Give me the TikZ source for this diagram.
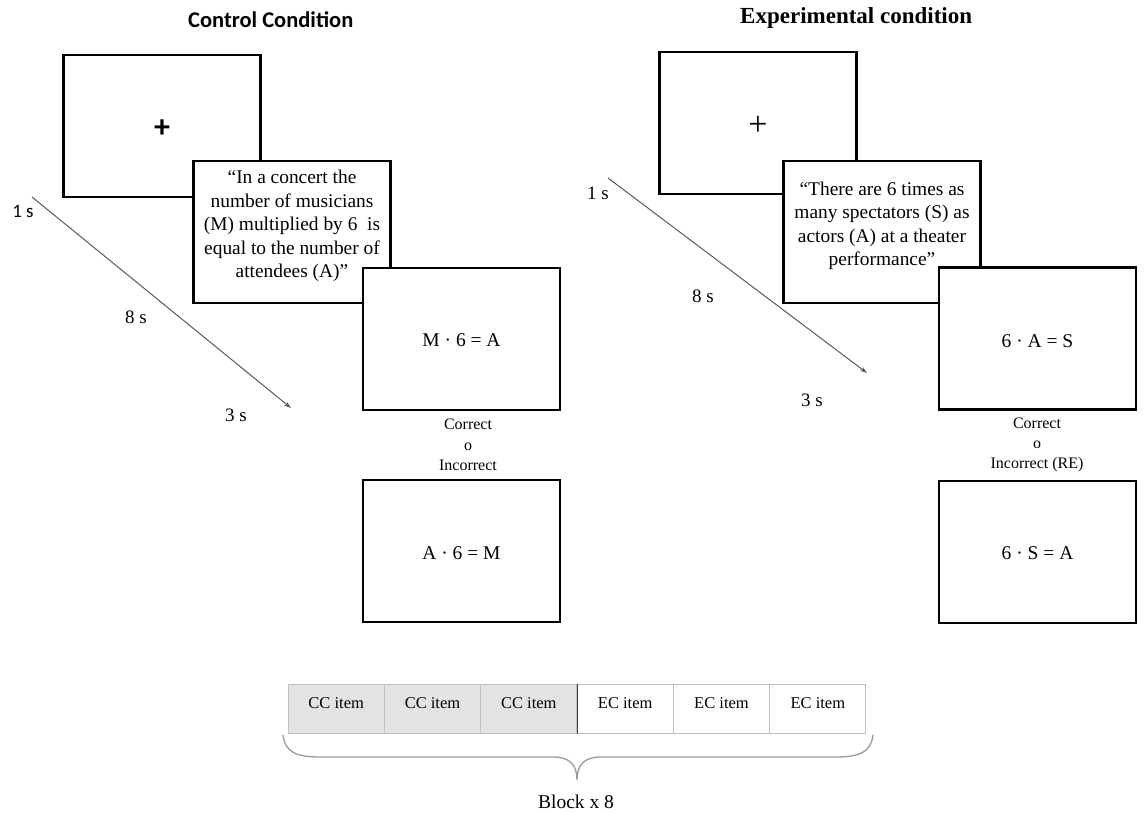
\documentclass[tikz,border=0pt]{standalone}
\usepackage{fontspec}
\setmainfont{Liberation Serif}
\newfontfamily\calib{Carlito}
\usetikzlibrary{arrows.meta}
\begin{document}
\begin{tikzpicture}[x=1pt,y=-1pt,
  screen/.style={draw=black,line width=2.4pt,fill=white,rectangle,inner sep=0pt,minimum width=197pt,minimum height=142pt},
  sent/.style={font=\fontsize{19.4}{23.4}\selectfont,align=center,inner sep=0pt},
  eqtxt/.style={font=\fontsize{19.5}{23}\selectfont,inner sep=0pt},
  resp/.style={font=\fontsize{16}{20.3}\selectfont,align=center,inner sep=0pt},
  tlab/.style={font=\fontsize{19}{22}\selectfont,inner sep=0pt},
  timeline/.style={draw=black!65,line width=1pt,-{Stealth[length=7pt,width=4.5pt]}},
  cell/.style={rectangle,draw=black!25,line width=1pt,minimum width=96.33pt,minimum height=49pt,inner sep=0pt},
  cc/.style={cell,fill=black!11},
  ec/.style={cell,fill=white},
  celltxt/.style={font=\fontsize{16.5}{20}\selectfont,inner sep=0pt}]
\useasboundingbox (0,0) rectangle (1144,813);

% ---------- titles
\node[anchor=base west,inner sep=0pt,font=\calib\bfseries\fontsize{22.5}{25}\selectfont] (t1) at (188,28) {Control Condition};
\node[anchor=base west,inner sep=0pt,font=\bfseries\fontsize{23}{26}\selectfont] (t2) at (740,24) {Experimental condition};

% ---------- control condition
\node[screen] (fixL) at (162,126) {};
\node[inner sep=0pt,font=\calib\bfseries\fontsize{32}{32}\selectfont] (plusL) at (162,129) {+};
\node[screen] (senL) at (292,232) {};
\node[sent] (senLt) at (292,226) {“In a concert the\\number of musicians\\(M) multiplied by 6\ \ is\\equal to the number of\\attendees (A)”};
\node[screen] (eqL1) at (461.5,339) {};
\node[eqtxt] (eqL1t) at (461.5,340) {M · 6 = A};
\node[resp] (respL) at (468,445) {Correct\\o\\Incorrect};
\node[screen] (eqL2) at (461.5,551) {};
\node[eqtxt] (eqL2t) at (461.5,553) {A · 6 = M};

\coordinate (aL1) at (32,197);
\coordinate (aL2) at (291,408);
\draw[timeline] (aL1) -- (aL2);
\node[inner sep=0pt,font=\calib\fontsize{19}{22}\selectfont] (l1L) at (23,211) {1 s};
\node[tlab] (l8L) at (136,317) {8 s};
\node[tlab] (l3L) at (236,415) {3 s};

% ---------- experimental condition
\node[screen] (fixR) at (758,123) {};
\node[inner sep=0pt,font=\fontsize{34}{34}\selectfont] (plusR) at (758,126) {+};
\node[screen] (senR) at (882,232) {};
\node[sent] (senRt) at (882,226) {“There are 6 times as\\many spectators (S) as\\actors (A) at a theater\\performance”};
\node[screen] (eqR1) at (1037.5,338.5) {};
\node[eqtxt] (eqR1t) at (1037.5,341) {6 · A = S};
\node[resp] (respR) at (1037,445) {Correct\\o\\Incorrect (RE)};
\node[screen] (eqR2) at (1037.5,552) {};
\node[eqtxt] (eqR2t) at (1037.5,553) {6 · S = A};

\coordinate (aR1) at (608,178);
\coordinate (aR2) at (867,373);
\draw[timeline] (aR1) -- (aR2);
\node[tlab] (l1R) at (598,193) {1 s};
\node[tlab] (l8R) at (703,296) {8 s};
\node[tlab] (l3R) at (812,400) {3 s};

% ---------- block of items
\node[cc] (c1) at (336.2,708.5) {};
\node[cc] (c2) at (432.5,708.5) {};
\node[cc] (c3) at (528.8,708.5) {};
\node[ec] (c4) at (625.2,708.5) {};
\node[ec] (c5) at (721.5,708.5) {};
\node[ec] (c6) at (817.8,708.5) {};
\draw[black!75,line width=1pt] (c3.north east) -- (c3.south east);
\foreach \c/\t in {c1/CC,c2/CC,c3/CC,c4/EC,c5/EC,c6/EC}
  \node[celltxt] (\c t) at ([yshift=5.5pt]\c.center) {\t{} item};

\coordinate (bl) at (283,735);
\coordinate (bt) at (577,780);
\coordinate (br) at (873,735);
\draw[black!40,line width=1.3pt] (bl) .. controls (285,752) and (296,757) .. (320,757)
  -- (553,757) .. controls (570,757) and (577,765) .. (bt)
  .. controls (577,765) and (584,757) .. (601,757)
  -- (835,757) .. controls (860,757) and (871,752) .. (br);
\node[anchor=base,inner sep=0pt,font=\fontsize{19.5}{22}\selectfont] (blk) at (576,808) {Block x 8};
\end{tikzpicture}
\end{document}
